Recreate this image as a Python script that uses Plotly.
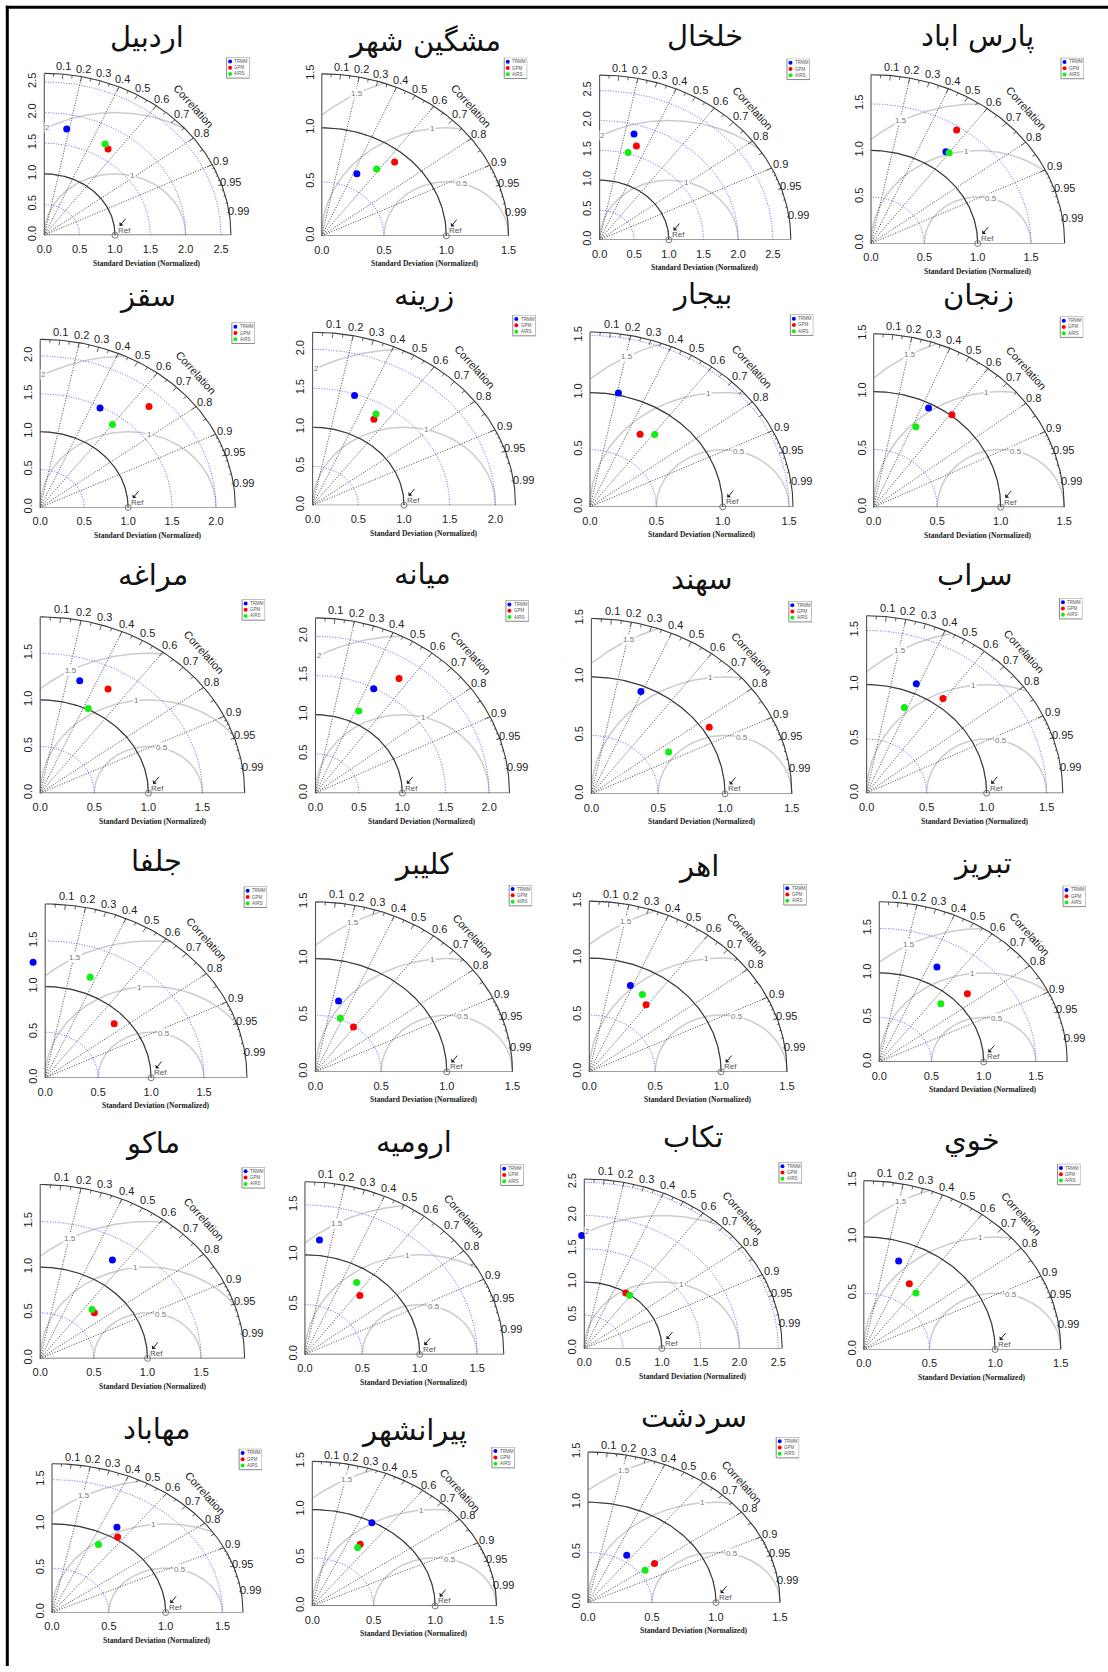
import numpy as np
import plotly.graph_objects as go

W, H = 1108, 1672

# ---------------- data ----------------
stations = ["اردبيل", "مشگين شهر", "خلخال", "پارس اباد",
            "سقز", "زرينه", "بيجار", "زنجان",
            "مراغه", "ميانه", "سهند", "سراب",
            "جلفا", "كليبر", "اهر", "تبريز",
            "ماكو", "اروميه", "تكاب", "خوي",
            "مهاباد", "پيرانشهر", "سردشت"]

# normalized standard deviation and correlation of each product
trmm_sd = [1.76, 0.64, 1.84, 1.21, 1.48, 1.48, 1.02, 0.96, 1.26, 1.49, 0.95, 1.09,
           1.27, 0.65, 0.82, 1.20, 1.27, 1.155, 1.70, 0.83, 1.12, 0.99, 0.56]
trmm_r = [0.18, 0.44, 0.27, 0.58, 0.46, 0.31, 0.21, 0.45, 0.29, 0.45, 0.39, 0.38,
          -0.09, 0.27, 0.38, 0.46, 0.53, 0.11, -0.02, 0.32, 0.51, 0.49, 0.54]
gpm_sd = [1.67, 0.90, 1.66, 1.46, 1.82, 1.29, 0.74, 1.01, 1.28, 1.75, 1.05, 1.08,
          0.88, 0.49, 0.73, 1.14, 0.71, 0.76, 0.99, 0.68, 1.03, 0.75, 0.65]
gpm_r = [0.54, 0.65, 0.32, 0.55, 0.68, 0.52, 0.51, 0.61, 0.49, 0.55, 0.84, 0.59,
         0.74, 0.59, 0.59, 0.74, 0.71, 0.63, 0.54, 0.51, 0.56, 0.52, 0.80]
airs_sd = [1.72, 0.76, 1.52, 1.22, 1.37, 1.36, 0.80, 0.77, 1.01, 1.16, 0.68, 0.85,
           1.18, 0.51, 0.79, 0.88, 0.72, 0.85, 0.99, 0.64, 0.87, 0.71, 0.55]
airs_r = [0.50, 0.58, 0.27, 0.60, 0.60, 0.51, 0.61, 0.43, 0.44, 0.43, 0.85, 0.37,
          0.36, 0.37, 0.51, 0.67, 0.67, 0.53, 0.59, 0.62, 0.47, 0.52, 0.81]

series_names = ["TRMM", "GPM", "AIRS"]
series_colors = ["#0000ff", "#ff0000", "#11ee11"]
corr_labels = [0.1, 0.2, 0.3, 0.4, 0.5, 0.6, 0.7, 0.8, 0.9, 0.95, 0.99]
corr_lines = [0.2, 0.4, 0.6, 0.8, 0.9]

# ---------------- panel placement (pixels) ----------------
panel_x0 = [44.3, 321.8, 599.6, 871.0, 40.2, 312.6, 590.0, 873.7, 40.2, 315.5, 591.4, 866.6,
            45.2, 315.5, 589.3, 879.3, 40.2, 304.9, 584.3, 863.8, 52.0, 312.3, 588.0]
panel_y0 = [236.0, 236.7, 240.7, 244.3, 509.3, 507.0, 508.7, 509.0, 796.0, 796.0, 796.7, 796.0,
            1081.7, 1075.7, 1075.7, 1065.7, 1363.3, 1359.3, 1353.3, 1354.3, 1618.3, 1611.7, 1608.3]
panel_ux = [70.7, 124.5, 69.3, 106.7, 87.9, 91.4, 132.7, 127.0, 108.2, 86.8, 133.6, 120.0,
            105.9, 131.3, 131.8, 104.4, 107.3, 114.8, 77.6, 131.3, 113.7, 122.8, 128.0]
panel_uy = [61.5, 108.4, 59.9, 93.3, 76.0, 78.2, 114.7, 116.0, 93.6, 78.7, 117.3, 108.9,
            91.6, 113.7, 114.2, 89.3, 91.6, 100.0, 66.7, 112.9, 88.9, 96.7, 100.7]
title_y = [38, 42, 37, 38, 298, 297, 296, 297, 578, 577, 582, 578,
           865, 868, 870, 867, 1148, 1147, 1142, 1145, 1435, 1437, 1423]

NUM_FONT = "Liberation Sans, Arial, sans-serif"
FINE_DOT = "1px,1.6px"


def pretty_unit(hi, n=3):
    cell = hi / n
    U = 10 ** np.floor(np.log10(cell))
    unit = U
    h, h5 = 1.5, 0.5 + 1.5 * 1.5
    if 2 * U - cell < h * (cell - unit):
        unit = 2 * U
        if 5 * U - cell < h5 * (cell - unit):
            unit = 5 * U
            if 10 * U - cell < h * (cell - unit):
                unit = 10 * U
    return unit


def arc(r, a0=0.0, a1=np.pi / 2, n=120):
    t = np.linspace(a0, a1, n)
    return list(r * np.cos(t)), list(r * np.sin(t))


fig = go.Figure()
shapes, annotations = [], []
axes = {}

for i in range(len(stations)):
    k = i + 1
    sfx = "" if k == 1 else str(k)
    xr, yr = "x" + sfx, "y" + sfx
    sdmax = 1.5 * max(trmm_sd[i], 1.0)
    lim = 1.1 * sdmax
    neg = 0.1 * sdmax
    ux, uy = panel_ux[i], panel_uy[i]
    x0, y0 = panel_x0[i], panel_y0[i]
    ticks = np.arange(0, sdmax + 1e-9, 0.5)
    tfont = dict(size=11, family=NUM_FONT, color="#222")
    axes["xaxis" + sfx] = dict(domain=[(x0 - neg * ux) / W, (x0 + lim * ux) / W], range=[-neg, lim], anchor=yr,
                               tickvals=list(ticks), ticktext=[f"{t:.1f}" for t in ticks],
                               showgrid=False, zeroline=False, showline=False, ticks="",
                               tickfont=tfont, ticklabelstandoff=6, fixedrange=True)
    axes["yaxis" + sfx] = dict(domain=[(H - y0) / H, (H - y0 + lim * uy) / H], range=[0, lim],
                               anchor="free", position=x0 / W,
                               tickvals=list(ticks), ticktext=[f"{t:.1f}" for t in ticks],
                               showgrid=False, zeroline=False, showline=False, ticks="",
                               tickangle=-90, tickfont=tfont, ticklabelstandoff=6, fixedrange=True)

    def add_line(xs, ys, color, width, dash="solid"):
        fig.add_trace(go.Scatter(x=xs, y=ys, mode="lines", xaxis=xr, yaxis=yr, showlegend=False,
                                 hoverinfo="skip", line=dict(color=color, width=width, dash=dash)))

    # gamma (centered RMS) arcs
    unit = pretty_unit(sdmax)
    gam = list(np.arange(unit, np.ceil(sdmax / unit - 1e-9) * unit + 1e-9, unit))
    if gam[-1] > sdmax + 1e-9:
        gam = gam[:-1]
    gx, gy = [], []
    labpos = np.linspace(45, 70, len(gam)).astype(int)
    for gi, g in enumerate(gam):
        t = np.linspace(0, np.pi, 400)
        xc = np.cos(t) * g + 1.0
        yc = np.sin(t) * g
        keep = (xc >= 0) & (xc ** 2 + yc ** 2 <= sdmax ** 2)
        idx = np.where(keep)[0]
        if len(idx):
            gx += list(xc[idx]) + [None]
            gy += list(yc[idx]) + [None]
        ang = (labpos[gi] - 1) * 0.03
        lx, ly = np.cos(ang) * g + 1.0, np.sin(ang) * g
        if lx > 0:
            annotations.append(dict(x=lx, y=ly, xref=xr, yref=yr, text=f"{g:g}", showarrow=False,
                                    font=dict(size=8, family=NUM_FONT, color="#777"),
                                    bgcolor="white", borderpad=0))
    add_line(gx, gy, "#cccccc", 1.5)

    # blue sd arcs
    bx, by = [], []
    for s in ticks[1:]:
        ax_, ay_ = arc(s)
        bx += ax_ + [None]
        by += ay_ + [None]
    add_line(bx, by, "#6a6aff", 1, FINE_DOT)

    # correlation lines
    cx, cy = [], []
    for c in corr_lines:
        cx += [0, sdmax * c, None]
        cy += [0, sdmax * np.sqrt(1 - c * c), None]
    add_line(cx, cy, "#333", 0.9, FINE_DOT)

    # reference sd arc
    rx, ry = arc(1.0)
    add_line(rx, ry, "#3a3a3a", 1.2)

    # outer arc + ticks
    ox, oy = arc(sdmax)
    add_line(ox, oy, "#3a3a3a", 1.1)
    tx, ty = [], []
    for vals, f in ((np.arange(0.1, 0.91, 0.1), 0.97), (np.arange(0.05, 0.96, 0.1), 0.98),
                    (np.arange(0.91, 0.995, 0.01), 0.99)):
        for c in vals:
            a = np.arccos(c)
            tx += [np.cos(a) * sdmax, np.cos(a) * f * sdmax, None]
            ty += [np.sin(a) * sdmax, np.sin(a) * f * sdmax, None]
    add_line(tx, ty, "#3a3a3a", 0.8)

    # axes lines
    add_line([0, sdmax, None, 0, 0], [0, 0, None, 0, sdmax], "#555", 1.1)

    # correlation labels
    for c in corr_labels:
        a = np.arccos(c)
        annotations.append(dict(x=np.cos(a) * 1.05 * sdmax, y=np.sin(a) * 1.05 * sdmax, xref=xr, yref=yr,
                                text=f"{c:g}", showarrow=False,
                                font=dict(size=11, family=NUM_FONT, color="#222")))
    annotations.append(dict(x=0.8 * sdmax, y=0.8 * sdmax, xref=xr, yref=yr, text="Correlation",
                            showarrow=False, textangle=48,
                            font=dict(size=11, family=NUM_FONT, color="#222")))

    # reference point
    fig.add_trace(go.Scatter(x=[1.0], y=[0.0], mode="markers", xaxis=xr, yaxis=yr, showlegend=False,
                             hoverinfo="skip", cliponaxis=False,
                             marker=dict(symbol="circle-open", size=6, color="#777", line=dict(width=1))))
    annotations.append(dict(x=1.0, y=0.0, xref=xr, yref=yr, text="Ref", showarrow=False,
                            xanchor="left", yanchor="middle", xshift=1, yshift=5,
                            font=dict(size=8, family=NUM_FONT, color="#555")))
    annotations.append(dict(x=1.0 + 4.7 / ux, y=9.3 / uy, xref=xr, yref=yr, text="", showarrow=True,
                            ax=7, ay=-8.5, arrowhead=1, arrowsize=0.9, arrowwidth=1, arrowcolor="#222"))

    # model points
    sets = [(trmm_sd, trmm_r), (gpm_sd, gpm_r), (airs_sd, airs_r)]
    for (sd, rr), col, name in zip(sets, series_colors, series_names):
        s, r = sd[i], rr[i]
        fig.add_trace(go.Scatter(x=[s * r], y=[s * np.sqrt(1 - r * r)], mode="markers", name=name,
                                 xaxis=xr, yaxis=yr, showlegend=False, cliponaxis=False,
                                 marker=dict(size=7, color=col)))

    # legend box
    lw, lh = 23 / ux, 21 / uy
    shapes.append(dict(type="rect", xref=xr, yref=yr, x0=lim - lw, x1=lim, y0=lim - lh, y1=lim,
                       line=dict(color="#888", width=1), fillcolor="white", layer="below"))
    for j, (col, name) in enumerate(zip(series_colors, series_names)):
        yy = lim - (4.2 + 6.3 * j) / uy
        fig.add_trace(go.Scatter(x=[lim - lw + 3.5 / ux], y=[yy], mode="markers", xaxis=xr, yaxis=yr,
                                 showlegend=False, hoverinfo="skip", cliponaxis=False,
                                 marker=dict(size=4, color=col)))
        annotations.append(dict(x=lim - lw + 5.8 / ux, y=yy, xref=xr, yref=yr, text=name, showarrow=False,
                                xanchor="left", yanchor="middle",
                                font=dict(size=4.5, family=NUM_FONT, color="#555")))

    # title and x label
    annotations.append(dict(x=(x0 + 0.55 * sdmax * ux) / W, y=(H - title_y[i] + 1) / H, xref="paper", yref="paper",
                            text=stations[i], showarrow=False, xanchor="center", yanchor="middle",
                            font=dict(size=29, family="DejaVu Sans, sans-serif", color="#111")))
    annotations.append(dict(x=0.55 * sdmax, y=0, xref=xr, yref=yr, yshift=-28,
                            text="<b>Standard Deviation (Normalized)</b>", showarrow=False,
                            xanchor="center", yanchor="middle",
                            font=dict(size=7.5, family="Liberation Serif, Times New Roman, serif", color="#222")))

# page border (left and top)
shapes.append(dict(type="line", xref="paper", yref="paper", x0=7.3 / W, x1=7.3 / W, y0=0, y1=1 - 5.8 / H,
                   line=dict(color="black", width=3)))
shapes.append(dict(type="line", xref="paper", yref="paper", x0=5.8 / W, x1=1, y0=1 - 7.2 / H, y1=1 - 7.2 / H,
                   line=dict(color="black", width=3)))

fig.update_layout(width=W, height=H, margin=dict(l=0, r=0, t=0, b=0), paper_bgcolor="white",
                  plot_bgcolor="rgba(0,0,0,0)", showlegend=False, shapes=shapes, annotations=annotations,
                  **axes)

# remove the page's default body margin right after the plot is created
fig.write_html("out.html", config={"displayModeBar": False},
               post_script="}); document.body.style.margin='0px'; document.body.style.overflow='hidden'; (function(){")
